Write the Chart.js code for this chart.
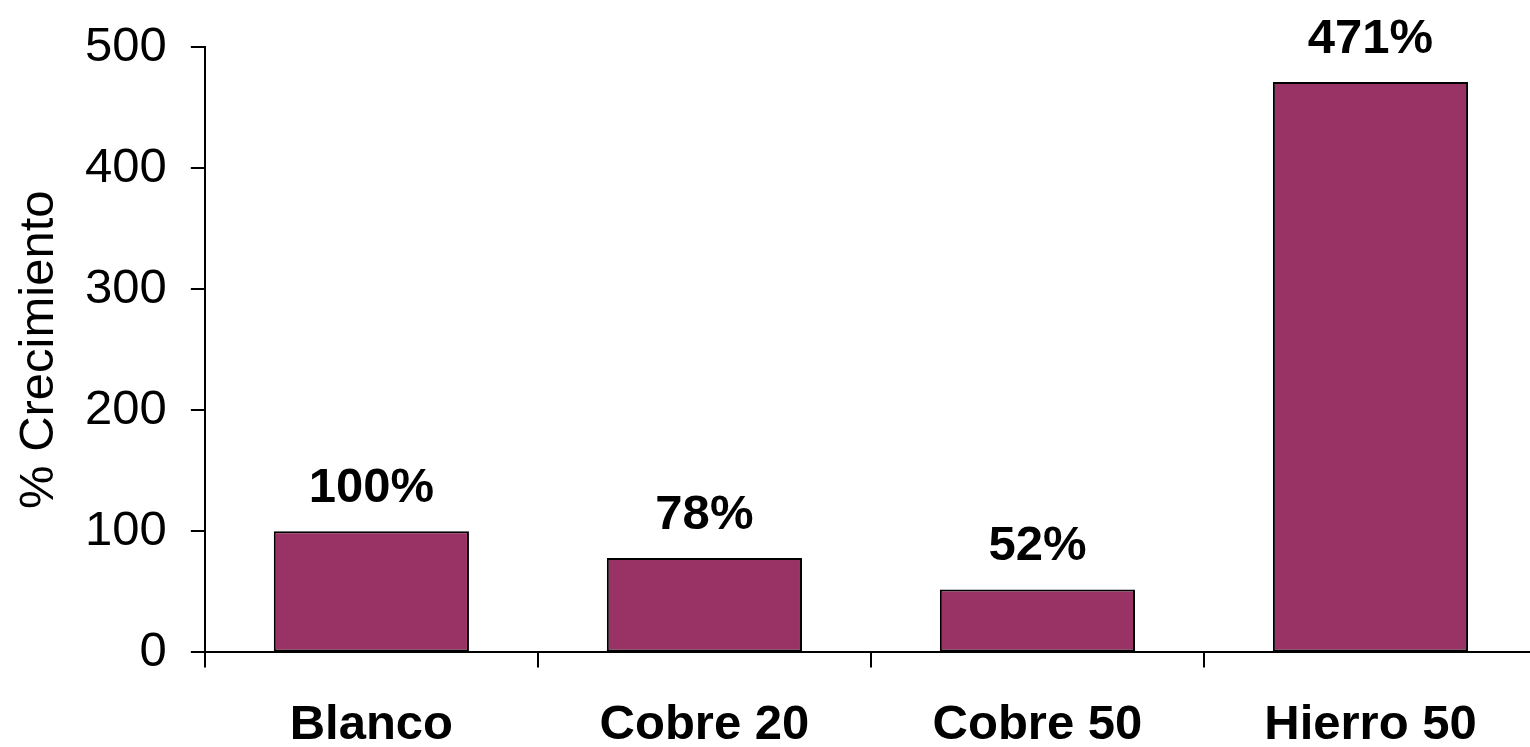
<!DOCTYPE html>
<html>
<head>
<meta charset="utf-8">
<script src="https://cdn.jsdelivr.net/npm/chart.js@4/dist/chart.umd.min.js"></script>
<style>
  html, body { margin: 0; padding: 0; background: #fff; overflow: hidden; }
  #growthChart { display: block; }
</style>
</head>
<body>
<canvas id="growthChart" width="1540" height="784"></canvas>
<script>
// datos
const categories = ['Blanco', 'Cobre 20', 'Cobre 50', 'Hierro 50'];
const growth = [100, 78, 52, 471];
const yTicks = [0, 100, 200, 300, 400, 500];

const FONT = '"Liberation Sans", Arial, sans-serif';
Chart.defaults.font.family = FONT;
Chart.defaults.color = '#000';

// etiquetas de porcentaje sobre cada barra
const valueLabels = {
  id: 'valueLabels',
  afterDatasetsDraw(chart) {
    const ctx = chart.ctx;
    const meta = chart.getDatasetMeta(0);
    ctx.save();
    ctx.font = 'bold 49px ' + FONT;
    ctx.fillStyle = '#000';
    ctx.textAlign = 'center';
    ctx.textBaseline = 'alphabetic';
    meta.data.forEach((bar, i) => {
      ctx.fillText(growth[i] + '%', bar.x, bar.y - 29);
    });
    ctx.restore();
  }
};

new Chart(document.getElementById('growthChart'), {
  type: 'bar',
  data: {
    labels: categories,
    datasets: [{
      data: growth,
      backgroundColor: '#993366',
      borderColor: '#000',
      borderWidth: 2,
      borderSkipped: false,
      categoryPercentage: 1,
      barPercentage: 0.586
    }]
  },
  options: {
    responsive: false,
    animation: false,
    layout: { padding: { top: 47, right: 3, left: 0, bottom: 0 } },
    plugins: {
      legend: { display: false },
      tooltip: { enabled: false }
    },
    scales: {
      x: {
        border: { color: '#000', width: 2 },
        grid: {
          offset: true,
          drawOnChartArea: false,
          drawTicks: true,
          tickLength: 15,
          color: '#000',
          lineWidth: 2
        },
        ticks: {
          padding: 35,
          color: '#000',
          font: { size: 49, weight: 'bold', lineHeight: 0.95 }
        }
      },
      y: {
        min: 0,
        max: 500,
        afterBuildTicks: scale => {
          scale.ticks = yTicks.map(v => ({ value: v }));
        },
        border: { color: '#000', width: 2 },
        grid: {
          drawOnChartArea: false,
          drawTicks: true,
          tickLength: 14,
          color: '#000',
          lineWidth: 2
        },
        ticks: {
          padding: 24,
          color: '#000',
          font: { size: 49, lineHeight: 0.8 }
        },
        title: {
          display: true,
          text: '% Crecimiento',
          color: '#000',
          font: { size: 49, lineHeight: 0.9 },
          padding: { top: 17, bottom: 0 }
        }
      }
    }
  },
  plugins: [valueLabels]
});
</script>
</body>
</html>
